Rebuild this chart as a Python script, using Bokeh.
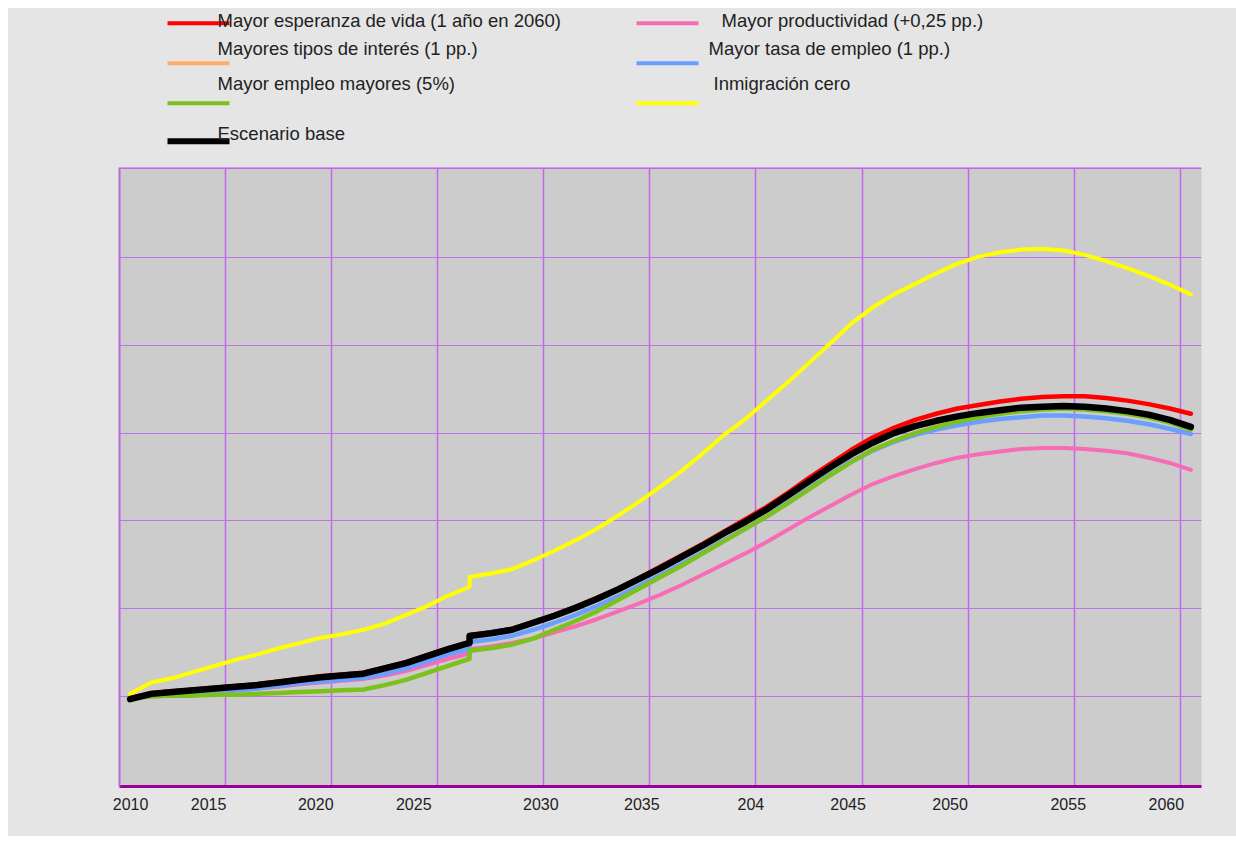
from bokeh.plotting import figure
from bokeh.layouts import column
from bokeh.models import Range1d, FixedTicker, Span, ColumnDataSource
from bokeh.core.properties import value
from bokeh.embed import file_html
from bokeh.resources import INLINE

# ---------------- data ----------------
YEARS = [2010, 2011, 2012, 2013, 2014, 2015, 2016, 2017, 2018, 2019, 2020, 2021, 2022, 2023, 2024, 2025, 2026,
         2026, 2027, 2028, 2029, 2030, 2031, 2032, 2033, 2034, 2035, 2036, 2037, 2038, 2039, 2040, 2041, 2042,
         2043, 2044, 2045, 2046, 2047, 2048, 2049, 2050, 2051, 2052, 2053, 2054, 2055, 2056, 2057, 2058, 2059, 2060]

base = [-0.03, 0.03, 0.05, 0.07, 0.09, 0.11, 0.13, 0.16, 0.19, 0.22, 0.24, 0.26, 0.32, 0.38, 0.46, 0.54, 0.61,
        0.69, 0.72, 0.76, 0.84, 0.92, 1.01, 1.11, 1.22, 1.34, 1.46, 1.59, 1.72, 1.86, 1.99, 2.13, 2.29, 2.45,
        2.61, 2.76, 2.89, 3.00, 3.08, 3.14, 3.19, 3.23, 3.26, 3.29, 3.30, 3.31, 3.30, 3.28, 3.25, 3.21, 3.15, 3.07]

esperanza = [-0.02, 0.04, 0.06, 0.08, 0.10, 0.12, 0.14, 0.17, 0.20, 0.23, 0.25, 0.27, 0.33, 0.39, 0.47, 0.55, 0.62,
             0.70, 0.73, 0.77, 0.85, 0.93, 1.02, 1.12, 1.23, 1.35, 1.48, 1.61, 1.74, 1.88, 2.02, 2.16, 2.32, 2.49,
             2.65, 2.81, 2.95, 3.06, 3.15, 3.22, 3.28, 3.32, 3.36, 3.39, 3.41, 3.42, 3.42, 3.40, 3.37, 3.33, 3.28, 3.22]

tipos = [-0.03, 0.03, 0.05, 0.07, 0.09, 0.11, 0.13, 0.16, 0.19, 0.22, 0.24, 0.26, 0.32, 0.38, 0.46, 0.54, 0.61,
         0.69, 0.72, 0.76, 0.84, 0.92, 1.01, 1.11, 1.22, 1.34, 1.46, 1.59, 1.72, 1.86, 1.99, 2.13, 2.29, 2.45,
         2.61, 2.76, 2.89, 3.00, 3.08, 3.14, 3.19, 3.23, 3.26, 3.29, 3.30, 3.31, 3.30, 3.28, 3.25, 3.21, 3.15, 3.07]

empleo_mayores = [-0.02, 0.00, 0.01, 0.01, 0.02, 0.02, 0.03, 0.04, 0.05, 0.06, 0.07, 0.08, 0.13, 0.19, 0.27, 0.35, 0.43,
                  0.52, 0.55, 0.59, 0.66, 0.76, 0.86, 0.97, 1.10, 1.23, 1.36, 1.49, 1.63, 1.77, 1.91, 2.05, 2.20, 2.36,
                  2.52, 2.67, 2.81, 2.91, 3.00, 3.07, 3.13, 3.18, 3.22, 3.25, 3.27, 3.28, 3.27, 3.25, 3.22, 3.18, 3.12, 3.04]

productividad = [-0.03, 0.02, 0.03, 0.04, 0.05, 0.07, 0.09, 0.11, 0.14, 0.16, 0.18, 0.20, 0.24, 0.29, 0.36, 0.43, 0.49,
                 0.54, 0.57, 0.61, 0.66, 0.73, 0.80, 0.88, 0.97, 1.06, 1.16, 1.27, 1.39, 1.51, 1.63, 1.76, 1.90, 2.04,
                 2.17, 2.30, 2.42, 2.51, 2.59, 2.66, 2.72, 2.76, 2.79, 2.82, 2.83, 2.83, 2.82, 2.80, 2.77, 2.72, 2.66, 2.58]

tasa_empleo = [-0.03, 0.02, 0.03, 0.04, 0.05, 0.07, 0.09, 0.12, 0.15, 0.17, 0.19, 0.21, 0.26, 0.32, 0.40, 0.48, 0.54,
               0.62, 0.65, 0.69, 0.76, 0.84, 0.93, 1.03, 1.14, 1.26, 1.38, 1.51, 1.64, 1.78, 1.91, 2.05, 2.21, 2.37,
               2.53, 2.68, 2.80, 2.90, 2.98, 3.04, 3.09, 3.13, 3.16, 3.18, 3.20, 3.20, 3.19, 3.17, 3.14, 3.10, 3.05, 2.99]

inmigracion_cero = [0.03, 0.16, 0.21, 0.28, 0.35, 0.42, 0.48, 0.55, 0.61, 0.67, 0.71, 0.76, 0.83, 0.93, 1.03, 1.15, 1.25,
                    1.36, 1.40, 1.45, 1.55, 1.66, 1.78, 1.91, 2.06, 2.22, 2.39, 2.57, 2.77, 2.98, 3.16, 3.37, 3.58, 3.80,
                    4.02, 4.25, 4.43, 4.58, 4.70, 4.82, 4.93, 5.01, 5.06, 5.09, 5.10, 5.08, 5.03, 4.96, 4.88, 4.79, 4.69, 4.58]

TICK_LABELS = ["2010", "2015", "2020", "2025", "2030", "2035", "204", "2045", "2050", "2055", "2060"]

LEGEND_LABELS = ["Mayor esperanza de vida (1 año en 2060)", "Mayores tipos de interés (1 pp.)",
                 "Mayor empleo mayores (5%)", "Escenario base",
                 "Mayor productividad (+0,25 pp.)", "Mayor tasa de empleo (1 pp.)", "Inmigración cero"]

# ---------------- style / layout ----------------
FONT = "Liberation Sans"
BG = "#e5e5e5"
C_RED, C_ORANGE, C_GREEN, C_BLACK = "#ff0000", "#ffad6b", "#7dc11d", "#000000"
C_PINK, C_BLUE, C_YELLOW = "#f76cb4", "#6a9eff", "#ffff00"

W = 1228
TOP = 8            # top margin of the page block
LEG_H = 158 - TOP
MAIN_H = 678
BL, BR = 111, 35   # left / right borders of both figures (frames aligned)

# label centres (slightly offset from the category positions, as in the original)
LABEL_POS = [2010.02, 2013.7, 2018.75, 2023.37, 2029.36, 2034.12, 2039.26, 2043.84, 2048.65, 2054.22, 2058.84]

# ---------------- legend figure (data coords == page pixels) ----------------
lg = figure(width=W, height=LEG_H, x_range=Range1d(BL + 8, W - BR + 8), y_range=Range1d(LEG_H + TOP, TOP),
            output_backend="svg", toolbar_location=None,
            min_border_left=BL, min_border_right=BR, min_border_top=0, min_border_bottom=0,
            background_fill_color=BG, border_fill_color=BG, outline_line_color=None)
lg.axis.visible = False
lg.grid.visible = False

seg_x0 = [167, 167, 167, 167, 636, 636, 636]
seg_x1 = [229, 229, 229, 229, 698, 698, 698]
seg_y = [22.7, 62.7, 102.7, 140.7, 22.7, 62.7, 102.7]
seg_col = [C_RED, C_ORANGE, C_GREEN, C_BLACK, C_PINK, C_BLUE, C_YELLOW]
seg_w = [4, 4, 4, 6, 4, 4, 4]
lg.segment(x0=seg_x0, y0=seg_y, x1=seg_x1, y1=seg_y, line_color=seg_col, line_width=seg_w)

txt_src = ColumnDataSource(dict(
    x=[217, 217, 217, 217, 721, 708, 713],
    y=[19.5, 48, 83, 133, 19.5, 48, 83],
    t=LEGEND_LABELS,
))
lg.text(x="x", y="y", text="t", source=txt_src, text_font=value(FONT), text_font_size="18.5px",
        text_color="#222222", text_baseline="middle", text_align="left")

# ---------------- main figure ----------------
p = figure(width=W, height=MAIN_H, x_range=Range1d(2009.5, 2060.5), y_range=Range1d(-1.025, 6.025),
           output_backend="svg", toolbar_location=None,
           background_fill_color="#cccccc", border_fill_color=BG, outline_line_color=None,
           min_border_left=BL, min_border_right=BR, min_border_top=9, min_border_bottom=50)

p.xgrid.ticker = FixedTicker(ticks=[y - 0.5 for y in range(2015, 2061, 5)])
p.xgrid.grid_line_color = "#c466f5"
p.xgrid.grid_line_width = 1.5
p.ygrid.ticker = FixedTicker(ticks=[0, 1, 2, 3, 4, 5])
p.ygrid.grid_line_color = "#bd74ea"
p.ygrid.grid_line_width = 1.2

p.xaxis.ticker = FixedTicker(ticks=LABEL_POS)
p.xaxis.major_label_overrides = {pos: lab for pos, lab in zip(LABEL_POS, TICK_LABELS)}
p.xaxis.major_tick_line_color = None
p.xaxis.minor_tick_line_color = None
p.xaxis.axis_line_color = "#990099"
p.xaxis.axis_line_width = 3
p.xaxis.major_label_text_font = FONT
p.xaxis.major_label_text_font_size = "16px"
p.xaxis.major_label_text_color = "#222222"
p.xaxis.major_label_standoff = 5

p.yaxis.major_label_text_font_size = "0px"
p.yaxis.major_tick_line_color = None
p.yaxis.minor_tick_line_color = None
p.yaxis.axis_line_color = "#b868d8"
p.yaxis.axis_line_width = 2
p.yaxis.ticker = FixedTicker(ticks=[])

p.add_layout(Span(location=6.025, dimension="width", line_color="#c466f5", line_width=3))

common = dict(line_join="round", line_cap="round")
p.line(YEARS, inmigracion_cero, line_color=C_YELLOW, line_width=4, **common)
p.line(YEARS, productividad, line_color=C_PINK, line_width=4, **common)
p.line(YEARS, tasa_empleo, line_color=C_BLUE, line_width=4.5, **common)
p.line(YEARS, empleo_mayores, line_color=C_GREEN, line_width=4.5, **common)
p.line(YEARS, tipos, line_color=C_ORANGE, line_width=4, **common)
p.line(YEARS, esperanza, line_color=C_RED, line_width=4.5, **common)
p.line(YEARS, base, line_color=C_BLACK, line_width=6.5, **common)

layout = column(lg, p, spacing=0, margin=(TOP, 0, 0, 8), styles={"background-color": BG})
open("out.html", "w").write(file_html(layout, INLINE))
